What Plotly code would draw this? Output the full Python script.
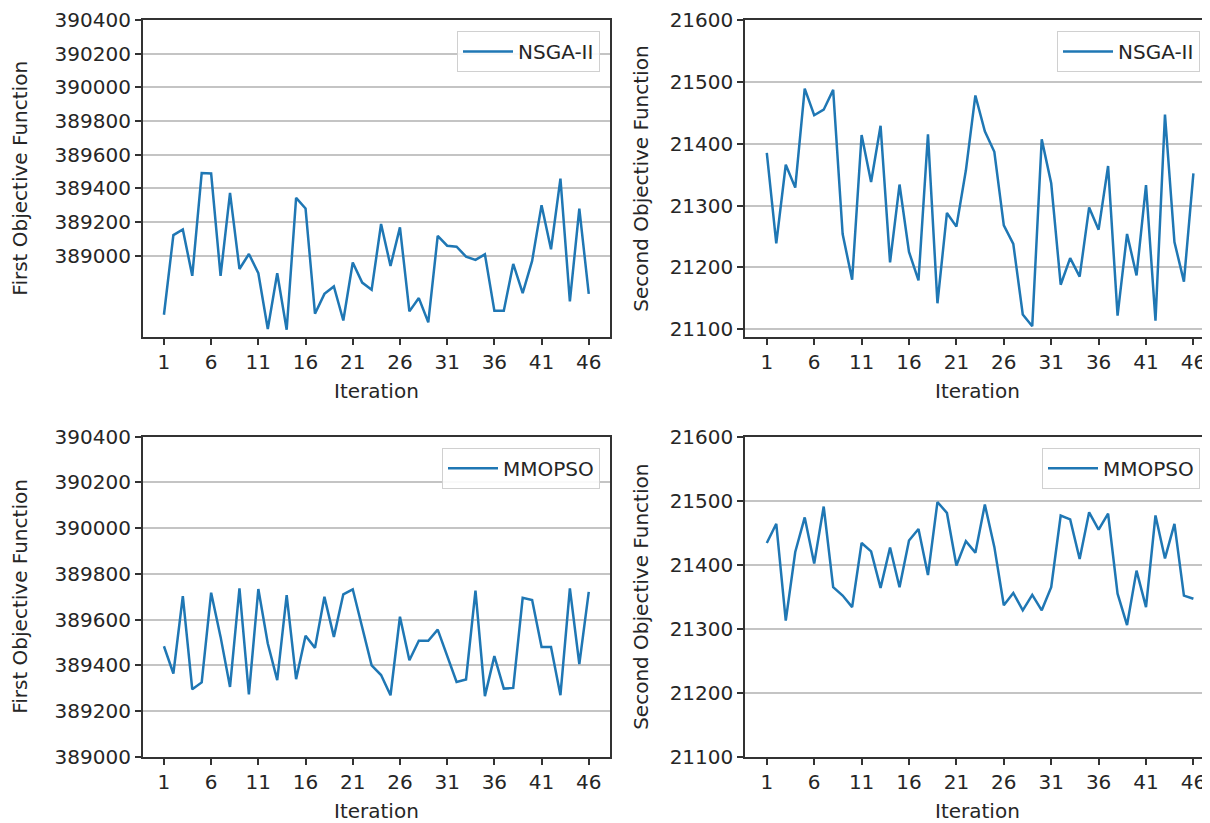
import plotly.graph_objects as go

iterations = list(range(1, 47))
x_ticks = list(range(1, 47, 5))

nsga_f1 = [388649, 389122, 389156, 388880, 389491, 389488, 388880, 389373, 388921, 389010,
           388896, 388564, 388896, 388560, 389343, 389280, 388655, 388773, 388817, 388615,
           388959, 388840, 388797, 389188, 388939, 389168, 388669, 388748, 388604, 389117,
           389059, 389053, 388994, 388975, 389008, 388673, 388673, 388951, 388777, 388969,
           389300, 389038, 389458, 388728, 389280, 388773]
nsga_f2 = [21385, 21239, 21366, 21329, 21489, 21446, 21455, 21487, 21254, 21180,
           21414, 21338, 21429, 21208, 21334, 21225, 21179, 21415, 21142, 21288,
           21266, 21357, 21478, 21420, 21387, 21268, 21238, 21124, 21105, 21407,
           21336, 21172, 21215, 21185, 21297, 21261, 21364, 21122, 21254, 21187,
           21333, 21114, 21447, 21241, 21177, 21352]
mmopso_f1 = [389484, 389365, 389703, 389296, 389326, 389718, 389525, 389306, 389737, 389274,
             389734, 389496, 389336, 389708, 389340, 389530, 389477, 389700, 389525, 389711,
             389733, 389569, 389401, 389358, 389270, 389613, 389423, 389508, 389508, 389557,
             389438, 389328, 389339, 389727, 389266, 389441, 389299, 389302, 389696, 389686,
             389481, 389481, 389270, 389737, 389406, 389722]
mmopso_f2 = [21434, 21464, 21313, 21420, 21474, 21402, 21491, 21365, 21352, 21334,
             21434, 21421, 21364, 21427, 21365, 21438, 21456, 21384, 21498, 21481,
             21399, 21437, 21419, 21494, 21428, 21337, 21356, 21329, 21353, 21329,
             21365, 21477, 21471, 21409, 21482, 21455, 21480, 21355, 21306, 21391,
             21334, 21477, 21410, 21464, 21352, 21347]

f1_ticks = list(range(389000, 390401, 200))
f2_ticks = list(range(21100, 21601, 100))

# page body adds an 8px offset; figure is sized to fill the rest of the window
OFF = 8
W, H = 1210 - OFF, 823 - OFF
FONT = "DejaVu Sans"
FS = 20
COLOR = "#1f77b4"
TXT = "#262626"

def px(x):
    return (x - OFF) / W

def py(y):
    return 1 - (y - OFF) / H

fig = go.Figure()

panels = [
    ("NSGA-II", nsga_f1, "legend", "x", "y", (142.7, 610), (20, 337.3), [-1.25, 48.25], [388515, 390400], f1_ticks, True),
    ("NSGA-II", nsga_f2, "legend2", "x2", "y2", (745, 1210), (20, 337.3), [-1.3, 47.75], [21087, 21600], f2_ticks, False),
    ("MMOPSO", mmopso_f1, "legend3", "x3", "y3", (142.7, 610), (436.7, 757), [-1.25, 48.25], [389000, 390400], f1_ticks, True),
    ("MMOPSO", mmopso_f2, "legend4", "x4", "y4", (745, 1210), (436.7, 757), [-1.3, 47.75], [21100, 21600], f2_ticks, False),
]

layout = dict(
    width=W, height=H,
    margin=dict(l=0, r=0, t=0, b=0, autoexpand=False),
    paper_bgcolor="white", plot_bgcolor="white",
    font=dict(family=FONT, size=FS, color=TXT),
    showlegend=True,
)

annotations = []
for i, (name, data, leg, xa, ya, xd, yd, xr, yr, yt, mirror_r) in enumerate(panels):
    fig.add_trace(go.Scatter(x=iterations, y=data, mode="lines", name=name,
                             line=dict(color=COLOR, width=2.5),
                             xaxis=xa, yaxis=ya, legend=leg))
    suffix = "" if i == 0 else str(i + 1)
    layout["xaxis" + suffix] = dict(
        domain=[px(xd[0]), min(1.0, px(xd[1]))], anchor=ya, range=xr, automargin=False,
        tickvals=x_ticks, ticks="outside", ticklen=6, tickwidth=1.5, tickcolor="#333",
        showline=True, linecolor="#333", linewidth=1.5, mirror=True,
        showgrid=False, zeroline=False, tickfont=dict(size=FS, color=TXT),
    )
    layout["yaxis" + suffix] = dict(
        domain=[py(yd[1]), py(yd[0])], anchor=xa, range=yr, automargin=False,
        tickvals=yt, tickformat="d", ticks="outside", ticklen=6, tickwidth=1.5, tickcolor="#333",
        showline=True, linecolor="#333", linewidth=1.5, mirror=mirror_r,
        showgrid=True, gridcolor="#c4c4c4", gridwidth=1.5, zeroline=False,
        tickfont=dict(size=FS, color=TXT),
    )
    legend_right = 600 if xd[0] < 300 else 1200
    layout[leg] = dict(
        x=px(legend_right), xanchor="right", y=py(yd[0] + 11), yanchor="top",
        bgcolor="rgba(255,255,255,0.9)", bordercolor="#d0d0d0", borderwidth=1,
        itemwidth=50,
        font=dict(size=FS, color=TXT), xref="paper", yref="paper",
    )
    cx = (xd[0] + xd[1]) / 2 if xd[0] < 300 else 978
    annotations.append(dict(text="Iteration", x=px(cx), y=py(yd[1] + 54), xref="paper", yref="paper",
                            showarrow=False, font=dict(size=FS, color=TXT), xanchor="center", yanchor="middle"))
    title = "First Objective Function" if xd[0] < 300 else "Second Objective Function"
    tx = 20 if xd[0] < 300 else 641
    annotations.append(dict(text=title, x=px(tx), y=py((yd[0] + yd[1]) / 2), xref="paper", yref="paper",
                            showarrow=False, textangle=-90, font=dict(size=FS, color=TXT),
                            xanchor="center", yanchor="middle"))

layout["annotations"] = annotations
fig.update_layout(**layout)
fig.write_html("out.html")
